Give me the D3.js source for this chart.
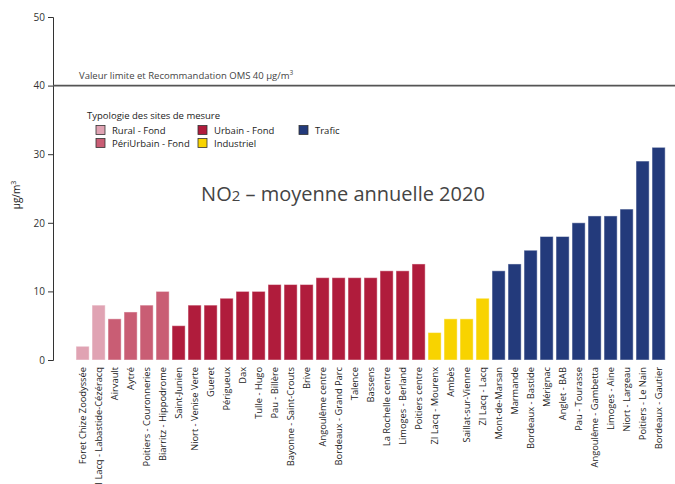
<!DOCTYPE html>
<html><head><meta charset="utf-8">
<script src="https://cdn.jsdelivr.net/npm/d3@7"></script>
<style>body{margin:0;background:#fff;} text{font-family:"Open Sans",sans-serif;}</style>
</head><body><svg id="c" width="675" height="484"></svg>
<script>
const sites = ["Foret Chize Zoodyssée","ZI Lacq - Labastide-Cézéracq","Airvault","Aytré","Poitiers - Couronneries","Biarritz - Hippodrome","Saint-Junien","Niort - Venise Verte","Gueret","Périgueux","Dax","Tulle - Hugo","Pau - Billère","Bayonne - Saint-Crouts","Brive","Angoulême centre","Bordeaux - Grand Parc","Talence","Bassens","La Rochelle centre","Limoges - Berland","Poitiers centre","ZI Lacq - Mourenx","Ambès","Saillat-sur-Vienne","ZI Lacq - Lacq","Mont-de-Marsan","Marmande","Bordeaux - Bastide","Mérignac","Anglet - BAB","Pau - Tourasse","Angoulême - Gambetta","Limoges - Aine","Niort - Largeau","Poitiers - Le Nain","Bordeaux - Gautier"];
const values = [2,8,6,7,8,10,5,8,8,9,10,10,11,11,11,12,12,12,12,13,13,14,4,6,6,9,13,14,16,18,18,20,21,21,22,29,31];
const types = ["Rural - Fond","Rural - Fond","PériUrbain - Fond","PériUrbain - Fond","PériUrbain - Fond","PériUrbain - Fond",
 "Urbain - Fond","Urbain - Fond","Urbain - Fond","Urbain - Fond","Urbain - Fond","Urbain - Fond","Urbain - Fond","Urbain - Fond","Urbain - Fond","Urbain - Fond","Urbain - Fond","Urbain - Fond","Urbain - Fond","Urbain - Fond","Urbain - Fond","Urbain - Fond",
 "Industriel","Industriel","Industriel","Industriel",
 "Trafic","Trafic","Trafic","Trafic","Trafic","Trafic","Trafic","Trafic","Trafic","Trafic","Trafic"];
const typeNames = ["Rural - Fond","PériUrbain - Fond","Urbain - Fond","Industriel","Trafic"];
const typeColors = ["#e0a3b3","#c95d74","#b01c3c","#f8d300","#233a7b"];
const yTicks = [0,10,20,30,40,50];
const limitValue = 40;

const svg = d3.select("#c");
const x = d3.scaleBand().domain(d3.range(sites.length)).range([74.6, 666.6]).paddingInner(0.18).paddingOuter(0.09);
const y = d3.scaleLinear().domain([0,50]).range([360,17]);
const color = d3.scaleOrdinal().domain(typeNames).range(typeColors);

// y axis
const ya = svg.append("g").attr("transform","translate(53,0)")
  .call(d3.axisLeft(y).tickValues(yTicks).tickSize(5).tickPadding(3));
ya.select(".domain").attr("stroke","#333");
ya.selectAll(".tick line").attr("stroke","#333");
ya.selectAll(".tick text").attr("fill","#333").style("font-size","10px");

svg.append("text").attr("transform","translate(20,195) rotate(-90)").attr("text-anchor","middle")
  .attr("fill","#222").style("font-size","10px")
  .html('µg/m<tspan dy="-4" font-size="7">3</tspan>');

// bars
svg.append("g").selectAll("rect").data(values).join("rect")
  .attr("x",(d,i)=>x(i)).attr("width",x.bandwidth())
  .attr("y",d=>y(d)).attr("height",d=>y(0)-y(d))
  .attr("fill",(d,i)=>color(types[i]))
  .attr("stroke","#ffffff").attr("stroke-opacity",0.45).attr("stroke-width",1);

// x labels
svg.append("g").selectAll("text").data(sites).join("text")
  .attr("transform",(d,i)=>`translate(${x(i)+x.bandwidth()/2+3.5},367) rotate(-90)`)
  .attr("text-anchor","end").attr("fill","#222").style("font-size","9.3px").text(d=>d);

// limit line
svg.append("line").attr("x1",53).attr("x2",675).attr("y1",y(limitValue)).attr("y2",y(limitValue))
  .attr("stroke","#555").attr("stroke-width",1.8);
svg.append("text").attr("x",79).attr("y",79).attr("fill","#444").style("font-size","9.5px")
  .html('Valeur limite et Recommandation OMS 40 µg/m<tspan dy="-4" font-size="6.5">3</tspan>');

// title
svg.append("text").attr("x",343).attr("y",201).attr("text-anchor","middle").attr("fill","#444")
  .style("font-size","20px").html('NO<tspan font-size="15">2</tspan> – moyenne annuelle 2020');

// legend
const lg = svg.append("g");
lg.append("text").attr("x",87).attr("y",119).attr("fill","#222").style("font-size","9.5px").text("Typologie des sites de mesure");
const pos = [[96,130],[96,143],[198,130],[198,143],[299,130]];
typeNames.forEach((t,i)=>{
  lg.append("rect").attr("x",pos[i][0]).attr("y",pos[i][1]-4.5).attr("width",9).attr("height",9)
    .attr("fill",typeColors[i]).attr("stroke","#333").attr("stroke-width",0.8);
  lg.append("text").attr("x",pos[i][0]+16).attr("y",pos[i][1]+4).attr("fill","#222").style("font-size","9.5px").text(t);
});
</script></body></html>
